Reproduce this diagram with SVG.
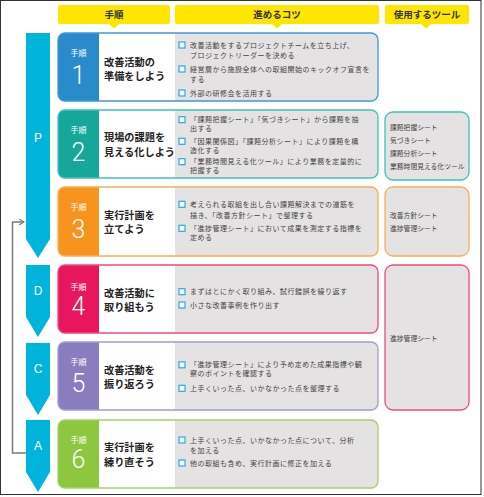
<svg xmlns="http://www.w3.org/2000/svg" width="484" height="497" viewBox="0 0 484 497">
<style>
text{font-family:"Noto Sans CJK JP","Noto Sans",sans-serif}
.hd{fill:#FFE600}
.hdt{font-size:9.5px;font-weight:bold;fill:#333;text-anchor:middle}
.pdca{fill:#00B4DB}
.pl{font-family:"Liberation Sans",Arial,sans-serif;font-size:12px;fill:#fff;text-anchor:middle}
.gray{fill:#E4E2E2}
.wh{fill:#fff}
.st{font-size:8px;fill:#fff;text-anchor:middle}
.num{font-family:Roboto,"Open Sans",sans-serif;font-weight:300;font-size:25px;fill:#fff;text-anchor:middle}
.ttl{font-size:10.2px;font-weight:bold;fill:#222}
.ct{font-size:7px;letter-spacing:0.5px;fill:#444}
.tl{font-size:6.8px;fill:#444}
.cb{fill:#fff;stroke:#29ABE2;stroke-width:1.2}
.conn{fill:none;stroke:#7a7a7a;stroke-width:1.5}
</style>
<defs>
<marker id="ah" markerWidth="6" markerHeight="6" refX="5" refY="3" orient="auto" markerUnits="userSpaceOnUse"><path d="M0,0 L5,3 L0,6" fill="none" stroke="#7a7a7a" stroke-width="1.2"/></marker>
</defs>
<rect x="0.5" y="0.5" width="480.5" height="494" fill="#fff" stroke="#333" stroke-width="1"/>

<g id="headers">
<rect class="hd" x="58" y="5" width="112" height="19" rx="2"/><path class="hd" d="M109,24 L114,28.5 L119,24Z"/>
<text class="hdt" x="114" y="18">手順</text>
<rect class="hd" x="175" y="5" width="204" height="19" rx="2"/><path class="hd" d="M272,24 L277,28.5 L282,24Z"/>
<text class="hdt" x="277" y="18">進めるコツ</text>
<rect class="hd" x="385" y="5" width="84" height="19" rx="2"/><path class="hd" d="M421,24 L426,28.5 L431,24Z"/>
<text class="hdt" x="427" y="18">使用するツール</text>
</g>

<g id="pdca-P"><path class="pdca" d="M26,33 H50 V239 L38,258 L26,239Z"/><text class="pl" x="38" y="141.5">P</text></g>
<g id="pdca-D"><path class="pdca" d="M26,265 H50 V317 L38,337 L26,317Z"/><text class="pl" x="38" y="294.5">D</text></g>
<g id="pdca-C"><path class="pdca" d="M26,343 H50 V395 L38,415 L26,395Z"/><text class="pl" x="38" y="372.5">C</text></g>
<g id="pdca-A"><path class="pdca" d="M26,420 H50 V472 L38,492 L26,472Z"/><text class="pl" x="38" y="449.5">A</text></g>

<g id="connectors">
<path class="conn" d="M26,453 H12.5 V222 H24" marker-end="url(#ah)"/>
</g>

<!-- Step 1 -->
<g id="step1">
<rect class="gray" x="58" y="33" width="320" height="68" rx="7"/>
<rect class="wh" x="99" y="33" width="76" height="68"/>
<path fill="#2A8BCB" d="M99,33 H65 A7,7 0 0 0 58,40 V94 A7,7 0 0 0 65,101 H99Z"/>
<rect x="58" y="33" width="320" height="68" rx="7" fill="none" stroke="#3D9AD6" stroke-width="1.3"/>
<text class="st" x="78.5" y="56">手順</text><text class="num" x="78.5" y="84">1</text>
<text class="ttl" x="104" y="65.5">改善活動の</text><text class="ttl" x="104" y="79.5">準備をしよう</text>
<rect class="cb" x="179" y="42" width="6" height="6"/><text class="ct" x="190" y="47.6">改善活動をするプロジェクトチームを立ち上げ、</text><text class="ct" x="190" y="57.6">プロジェクトリーダーを決める</text>
<rect class="cb" x="179" y="66" width="6" height="6"/><text class="ct" x="190" y="71.8">経営層から施設全体への取組開始のキックオフ宣言を</text><text class="ct" x="190" y="81.8">する</text>
<rect class="cb" x="179" y="90" width="6" height="6"/><text class="ct" x="190" y="95.6">外部の研修会を活用する</text>
</g>

<!-- Step 2 -->
<g id="step2">
<rect class="gray" x="58" y="110" width="320" height="68" rx="7"/>
<rect class="wh" x="99" y="110" width="76" height="68"/>
<path fill="#17A79A" d="M99,110 H65 A7,7 0 0 0 58,117 V171 A7,7 0 0 0 65,178 H99Z"/>
<rect x="58" y="110" width="320" height="68" rx="7" fill="none" stroke="#3EC3B5" stroke-width="1.3"/>
<text class="st" x="78.5" y="133">手順</text><text class="num" x="78.5" y="161">2</text>
<text class="ttl" x="104" y="141">現場の課題を</text><text class="ttl" x="104" y="156">見える化しよう</text>
<rect class="cb" x="179" y="116.7" width="6" height="6"/><text class="ct" x="190" y="122.3">「課題把握シート」「気づきシート」から課題を抽</text><text class="ct" x="190" y="130.8">出する</text>
<rect class="cb" x="179" y="138.3" width="6" height="6"/><text class="ct" x="190" y="143.9">「因果関係図」「課題分析シート」により課題を構</text><text class="ct" x="190" y="152.8">造化する</text>
<rect class="cb" x="179" y="158.7" width="6" height="6"/><text class="ct" x="190" y="164.3">「業務時間見える化ツール」により業務を定量的に</text><text class="ct" x="190" y="172.8">把握する</text>
</g>
<g id="tools2">
<rect class="gray" x="385" y="112" width="84" height="68" rx="8" stroke="#3EC3B5" stroke-width="1.3"/>
<text class="tl" x="390" y="129.5">課題把握シート</text><text class="tl" x="390" y="142.5">気づきシート</text><text class="tl" x="390" y="155.5">課題分析シート</text><text class="tl" x="390" y="168.5">業務時間見える化ツール</text>
</g>

<!-- Step 3 -->
<g id="step3">
<rect class="gray" x="58" y="187" width="320" height="69" rx="7"/>
<rect class="wh" x="99" y="187" width="76" height="69"/>
<path fill="#F7941E" d="M99,187 H65 A7,7 0 0 0 58,194 V249 A7,7 0 0 0 65,256 H99Z"/>
<rect x="58" y="187" width="320" height="69" rx="7" fill="none" stroke="#F8AE57" stroke-width="1.3"/>
<text class="st" x="78.5" y="210">手順</text><text class="num" x="78.5" y="238">3</text>
<text class="ttl" x="104" y="219">実行計画を</text><text class="ttl" x="104" y="233">立てよう</text>
<rect class="cb" x="179" y="201.3" width="6" height="6"/><text class="ct" x="190" y="206.9">考えられる取組を出し合い課題解決までの道筋を</text><text class="ct" x="190" y="217.6">描き、「改善方針シート」で整理する</text>
<rect class="cb" x="179" y="225.3" width="6" height="6"/><text class="ct" x="190" y="230.9">「進捗管理シート」において成果を測定する指標を</text><text class="ct" x="190" y="240.3">定める</text>
</g>
<g id="tools3">
<rect class="gray" x="385" y="187" width="84" height="69" rx="8" stroke="#F8AE57" stroke-width="1.3"/>
<text class="tl" x="390" y="217.5">改善方針シート</text><text class="tl" x="390" y="230.5">進捗管理シート</text>
</g>

<!-- Step 4 -->
<g id="step4">
<rect class="gray" x="58" y="265" width="320" height="68" rx="7"/>
<rect class="wh" x="99" y="265" width="76" height="68"/>
<path fill="#E8175D" d="M99,265 H65 A7,7 0 0 0 58,272 V326 A7,7 0 0 0 65,333 H99Z"/>
<rect x="58" y="265" width="320" height="68" rx="7" fill="none" stroke="#EC4B7F" stroke-width="1.3"/>
<text class="st" x="78.5" y="290">手順</text><text class="num" x="78.5" y="315">4</text>
<text class="ttl" x="104" y="297">改善活動に</text><text class="ttl" x="104" y="311">取り組もう</text>
<rect class="cb" x="179" y="288.7" width="6" height="6"/><text class="ct" x="190" y="294.3">まずはとにかく取り組み、試行錯誤を繰り返す</text>
<rect class="cb" x="179" y="302" width="6" height="6"/><text class="ct" x="190" y="307.6">小さな改善事例を作り出す</text>
</g>
<g id="tools4">
<rect class="gray" x="385" y="265" width="84" height="145" rx="8" stroke="#EC4B7F" stroke-width="1.3"/>
<text class="tl" x="390" y="340.5">進捗管理シート</text>
</g>

<!-- Step 5 -->
<g id="step5">
<rect class="gray" x="58" y="342" width="320" height="68" rx="7"/>
<rect class="wh" x="99" y="342" width="76" height="68"/>
<path fill="#8A7DBE" d="M99,342 H65 A7,7 0 0 0 58,349 V403 A7,7 0 0 0 65,410 H99Z"/>
<rect x="58" y="342" width="320" height="68" rx="7" fill="none" stroke="#A49BD0" stroke-width="1.3"/>
<text class="st" x="78.5" y="365">手順</text><text class="num" x="78.5" y="392">5</text>
<text class="ttl" x="104" y="374">改善活動を</text><text class="ttl" x="104" y="388">振り返ろう</text>
<rect class="cb" x="179" y="361.8" width="6" height="6"/><text class="ct" x="190" y="367.4">「進捗管理シート」により予め定めた成果指標や観</text><text class="ct" x="190" y="376.2">察のポイントを確認する</text>
<rect class="cb" x="179" y="385.3" width="6" height="6"/><text class="ct" x="190" y="390.9">上手くいった点、いかなかった点を整理する</text>
</g>

<!-- Step 6 -->
<g id="step6">
<rect class="gray" x="58" y="420" width="320" height="68" rx="7"/>
<rect class="wh" x="99" y="420" width="76" height="68"/>
<path fill="#8DC63F" d="M99,420 H65 A7,7 0 0 0 58,427 V481 A7,7 0 0 0 65,488 H99Z"/>
<rect x="58" y="420" width="320" height="68" rx="7" fill="none" stroke="#A5D36A" stroke-width="1.3"/>
<text class="st" x="78.5" y="443">手順</text><text class="num" x="78.5" y="468">6</text>
<text class="ttl" x="104" y="451">実行計画を</text><text class="ttl" x="104" y="466">練り直そう</text>
<rect class="cb" x="179" y="437" width="6" height="6"/><text class="ct" x="190" y="442.6">上手くいった点、いかなかった点について、分析</text><text class="ct" x="190" y="452.6">を加える</text>
<rect class="cb" x="179" y="460" width="6" height="6"/><text class="ct" x="190" y="465.6">他の取組も含め、実行計画に修正を加える</text>
</g>
</svg>
